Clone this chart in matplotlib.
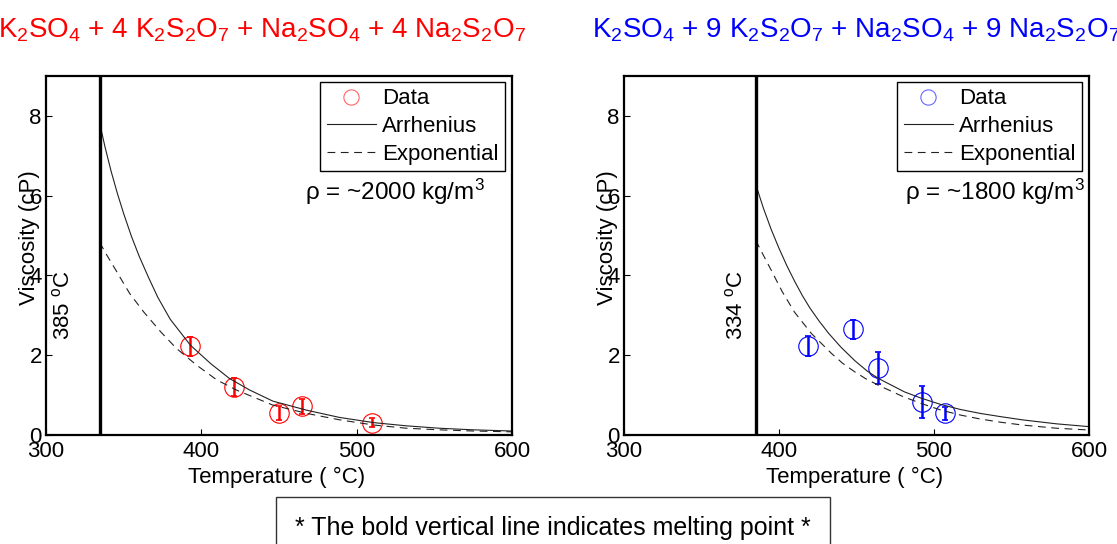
import matplotlib
matplotlib.use('Agg')
import matplotlib.pyplot as plt

plt.rcParams['font.family'] = ['Liberation Sans', 'DejaVu Sans']
plt.rcParams['mathtext.fontset'] = 'custom'
plt.rcParams['mathtext.rm'] = 'Liberation Sans'
plt.rcParams['mathtext.it'] = 'Liberation Sans:italic'
plt.rcParams['mathtext.bf'] = 'Liberation Sans:bold'
plt.rcParams['mathtext.default'] = 'rm'

# measured data, left panel (4:4 mixture)
left_T = [393, 421, 450, 465, 510]
left_visc = [2.22, 1.20, 0.55, 0.72, 0.31]
left_err = [0.23, 0.22, 0.18, 0.19, 0.12]

# fitted curves, left panel
left_arr_T = [334.5, 338, 342, 346, 350, 355, 360, 366, 372, 380, 393, 406, 418, 431, 446, 468, 489, 511, 532, 553, 575, 600]
left_arr_v = [7.83, 7.22, 6.6, 6.05, 5.55, 4.98, 4.48, 3.95, 3.45, 2.9, 2.25, 1.79, 1.42, 1.13, 0.85, 0.62, 0.44, 0.31, 0.23, 0.17, 0.13, 0.10]
left_exp_T = [334.5, 339, 345, 350, 354, 363, 374, 384, 397, 410, 423, 446, 468, 489, 511, 532, 553, 575, 600]
left_exp_v = [4.83, 4.52, 4.13, 3.8, 3.54, 3.08, 2.58, 2.17, 1.75, 1.38, 1.12, 0.75, 0.54, 0.38, 0.25, 0.17, 0.13, 0.10, 0.08]

# measured data, right panel (9:9 mixture)
right_T = [419, 448, 464, 492, 507]
right_visc = [2.23, 2.65, 1.69, 0.83, 0.54]
right_err = [0.24, 0.24, 0.40, 0.40, 0.17]

right_arr_T = [385, 390, 395, 400, 405, 410, 415, 420, 426, 432, 440, 449, 457, 464, 471, 481, 492, 504, 517, 530, 543, 557, 579, 600]
right_arr_v = [6.28, 5.68, 5.15, 4.68, 4.25, 3.86, 3.5, 3.18, 2.85, 2.55, 2.2, 1.86, 1.6, 1.42, 1.28, 1.08, 0.92, 0.77, 0.64, 0.54, 0.46, 0.38, 0.28, 0.21]
right_exp_T = [385, 390, 395, 402, 410, 421, 434, 441, 449, 456, 464, 479, 491, 504, 517, 530, 543, 557, 579, 600]
right_exp_v = [4.88, 4.5, 4.13, 3.6, 3.08, 2.54, 2.04, 1.8, 1.58, 1.41, 1.25, 0.98, 0.8, 0.63, 0.5, 0.4, 0.32, 0.25, 0.17, 0.125]

left_melt = 334.5
right_melt = 385
left_melt_label = '385 $^{\\rm o}$C'
right_melt_label = '334 $^{\\rm o}$C'

left_title = 'K$_2$SO$_4$ + 4 K$_2$S$_2$O$_7$ + Na$_2$SO$_4$ + 4 Na$_2$S$_2$O$_7$'
right_title = 'K$_2$SO$_4$ + 9 K$_2$S$_2$O$_7$ + Na$_2$SO$_4$ + 9 Na$_2$S$_2$O$_7$'
left_rho = '\u03c1 = ~2000 kg/m$^3$'
right_rho = '\u03c1 = ~1800 kg/m$^3$'

FS = 16

fig = plt.figure(figsize=(11.17, 5.44), dpi=100)
ax1 = fig.add_axes([46 / 1117, 109 / 544, 466 / 1117, 359 / 544])
ax2 = fig.add_axes([624 / 1117, 109 / 544, 465 / 1117, 359 / 544])


def draw_panel(ax, T, v, err, color, aT, av, eT, ev, melt, melt_label, melt_x, rho, rho_x):
    ax.axvline(melt, color='k', lw=2.4, zorder=3)
    ax.plot([], [], 'o', mfc='none', mec=color, ms=11, mew=0.8, alpha=0.6, label='Data')
    ax.errorbar(T, v, yerr=err, fmt='none', ecolor=color, elinewidth=1.8, capsize=2, capthick=1.2)
    ax.plot(T, v, 'o', mfc='none', mec=color, ms=14, mew=0.8)
    ax.plot(aT, av, '-', color='#222222', lw=0.8, label='Arrhenius')
    ax.plot(eT, ev, '--', color='#222222', lw=0.8, dashes=(7, 5), label='Exponential')
    ax.set_xlim(300, 600)
    ax.set_ylim(0, 9)
    ax.set_xticks([300, 400, 500, 600])
    ax.set_yticks([0, 2, 4, 6, 8])
    ax.tick_params(direction='in', length=4, labelsize=FS, pad=3)
    ax.tick_params(axis='x', pad=4)
    for s in ax.spines.values():
        s.set_linewidth(1.6)
    ax.set_xlabel('Temperature ( \u00b0C)', fontsize=FS)
    ax.set_ylabel('Viscosity (cP)', fontsize=FS)
    ax.yaxis.set_label_coords(-0.012, 0.55)
    ax.xaxis.set_label_coords(0.495, -0.088)
    ax.text(melt_x, 3.25, melt_label, rotation=90, ha='center', va='center', fontsize=FS)
    ax.text(rho_x, 6.1, rho, ha='left', va='center', fontsize=17.5)
    leg = ax.legend(loc='upper right', bbox_to_anchor=(0.986, 0.984), borderaxespad=0,
                    fontsize=FS, fancybox=False, framealpha=1, edgecolor='k',
                    labelspacing=0.3, handlelength=2.2, handletextpad=0.3,
                    borderpad=0.3)
    leg.get_frame().set_linewidth(1.0)


draw_panel(ax1, left_T, left_visc, left_err, 'red', left_arr_T, left_arr_v,
           left_exp_T, left_exp_v, left_melt, left_melt_label, 311, left_rho, 467)
draw_panel(ax2, right_T, right_visc, right_err, 'blue', right_arr_T, right_arr_v,
           right_exp_T, right_exp_v, right_melt, right_melt_label, 372.5, right_rho, 481)

fig.text(262 / 1117, 1 - 30 / 544, left_title, color='red', fontsize=20, ha='center', va='center')
fig.text(856 / 1117, 1 - 30 / 544, right_title, color='blue', fontsize=20, ha='center', va='center')

fig.text(553 / 1117, 1 - 528 / 544, '* The bold vertical line indicates melting point *',
         fontsize=18, ha='center', va='center',
         bbox=dict(boxstyle='square,pad=0.75', fc='white', ec='#333333', lw=1))

fig.savefig('out.png', dpi=100)
